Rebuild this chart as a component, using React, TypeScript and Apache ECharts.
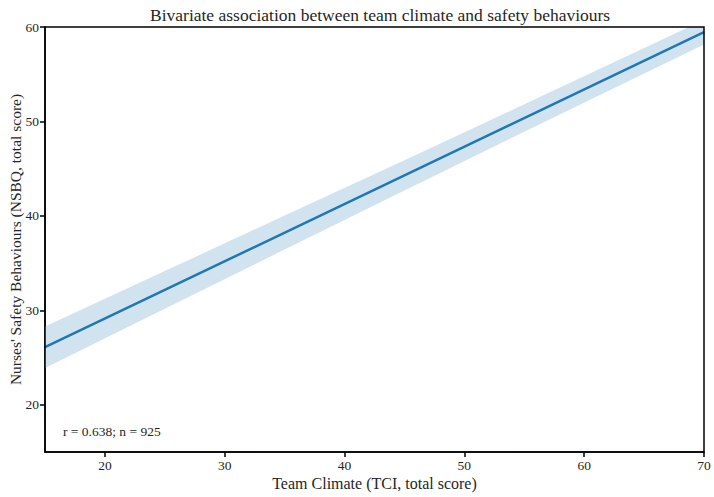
import React, { useEffect, useRef } from "react";
import * as echarts from "echarts";

const titleText = "Bivariate association between team climate and safety behaviours";
const xName = "Team Climate (TCI, total score)";
const yName = "Nurses' Safety Behaviours (NSBQ, total score)";
const annotation = "r = 0.638; n = 925";

const xTicks = [20, 30, 40, 50, 60, 70];
const yTicks = [20, 30, 40, 50, 60];

const fitX = [15, 70];
const fitY = [26.1, 59.45];

const bandX = [15, 25, 35, 45, 55, 70];
const bandLower = [23.9, 30.16, 36.43, 42.69, 48.91, 58.15];
const bandUpper = [28.3, 34.16, 40.03, 45.89, 51.81, 60.75];

const FONT = "Liberation Serif";
const TXT = "#262626";

export default function App() {
  const ref = useRef<HTMLDivElement>(null);
  useEffect(() => {
    if (!ref.current) return;
    const chart = echarts.init(ref.current, undefined, { renderer: "svg" });
    const bandData = bandX.map((x, i) => [x, bandLower[i], bandUpper[i]]);
    chart.setOption({
      animation: false,
      backgroundColor: "#ffffff",
      textStyle: { fontFamily: FONT, color: TXT },
      title: {
        text: titleText,
        left: 145,
        top: 1,
        textStyle: { fontFamily: FONT, fontSize: 17.5, fontWeight: "normal", color: TXT },
      },
      grid: {
        left: 45,
        right: 10,
        top: 27,
        bottom: 45,
        show: false,
        containLabel: false,
        outerBoundsMode: "none",
      },
      xAxis: {
        type: "value",
        min: 15,
        max: 70,
        name: xName,
        nameLocation: "middle",
        nameGap: 23,
        nameMoveOverlap: false,
        nameTextStyle: { fontFamily: FONT, fontSize: 16, color: TXT },
        axisLine: { show: true, onZero: false, lineStyle: { color: "#000", width: 1.5 } },
        axisTick: { show: true, length: 5, lineStyle: { color: "#000", width: 1.5 }, customValues: xTicks },
        axisLabel: { fontFamily: FONT, fontSize: 13.5, color: TXT, margin: 6, customValues: xTicks },
        splitLine: { show: false },
      },
      yAxis: {
        type: "value",
        min: 15,
        max: 60,
        name: yName,
        nameLocation: "middle",
        nameGap: 22,
        nameMoveOverlap: false,
        nameTextStyle: { fontFamily: FONT, fontSize: 15.5, color: TXT },
        axisLine: { show: true, onZero: false, lineStyle: { color: "#000", width: 1.5 } },
        axisTick: { show: true, length: 5, lineStyle: { color: "#000", width: 1.5 }, customValues: yTicks },
        axisLabel: { fontFamily: FONT, fontSize: 13.5, color: TXT, margin: 6, customValues: yTicks },
        splitLine: { show: false },
      },
      graphic: [
        {
          type: "rect",
          shape: { x: 45, y: 27, width: 659, height: 425 },
          style: { fill: "none", stroke: "#000", lineWidth: 1.5 },
          silent: true,
          z: 10,
        },
        {
          type: "text",
          left: 63,
          top: 424,
          style: { text: annotation, fontFamily: FONT, fontSize: 13.5, fill: TXT },
          z: 10,
        },
      ],
      series: [
        {
          type: "custom",
          data: bandData,
          clip: true,
          silent: true,
          z: 1,
          renderItem: (params: any, api: any) => {
            if (params.dataIndex !== 0) return null;
            const upper = bandData.map((d) => api.coord([d[0], d[2]]));
            const lower = bandData.map((d) => api.coord([d[0], d[1]])).reverse();
            return {
              type: "polygon",
              shape: { points: upper.concat(lower) },
              style: { fill: "#d2e3f0", stroke: "none" },
            };
          },
        },
        {
          type: "line",
          data: fitX.map((x, i) => [x, fitY[i]]),
          symbol: "none",
          z: 3,
          lineStyle: { color: "#1f77b4", width: 2.5 },
          silent: true,
        },
      ],
    });
    return () => chart.dispose();
  }, []);
  return <div ref={ref} style={{ width: 714, height: 497, position: "absolute", left: 0, top: 0 }} />;
}
